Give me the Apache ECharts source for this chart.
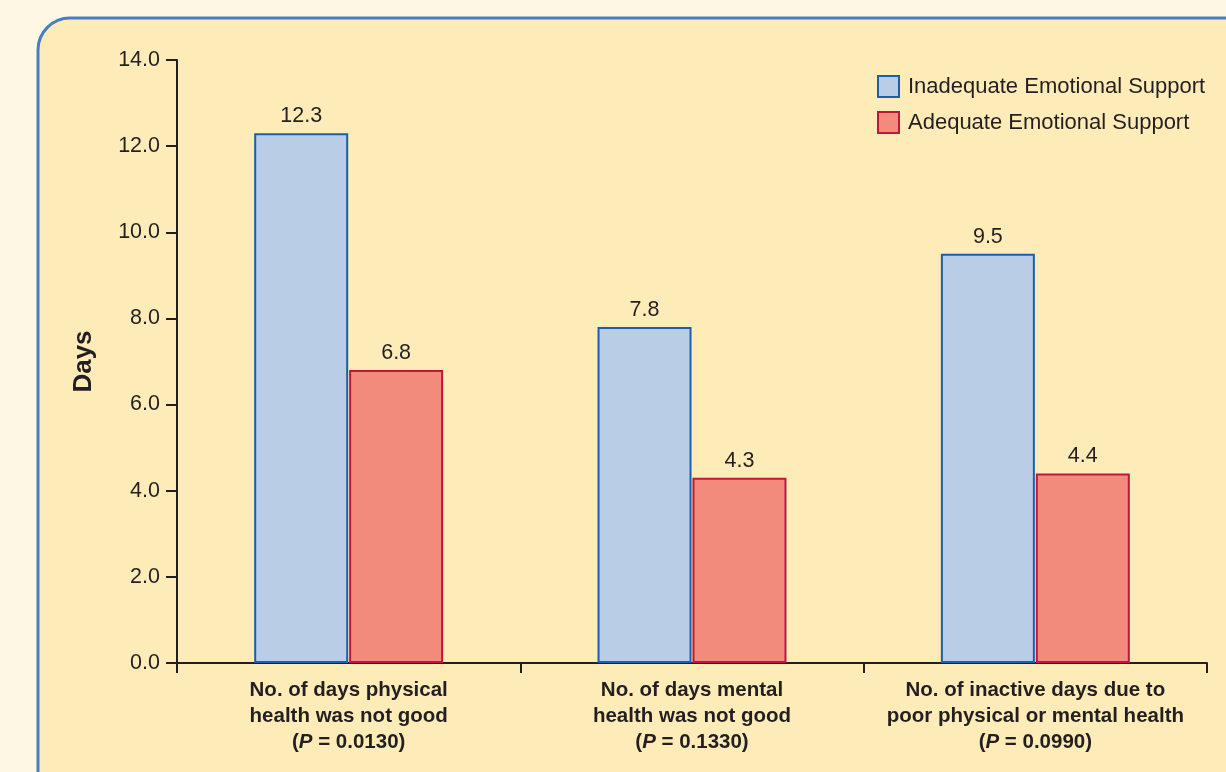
<!DOCTYPE html>
<html>
<head>
<meta charset="utf-8">
<script src="https://cdn.jsdelivr.net/npm/echarts@6/dist/echarts.min.js"></script>
<style>
html,body{margin:0;padding:0;background:#fdf7e4;}
#c{width:1226px;height:772px;}
</style>
</head>
<body>
<div id="c"></div>
<script>
const categories = [
  "No. of days physical\nhealth was not good",
  "No. of days mental\nhealth was not good",
  "No. of inactive days due to\npoor physical or mental health"
];
const pValues = ["0.0130", "0.1330", "0.0990"];
const inadequate = [12.3, 7.8, 9.5];
const adequate = [6.8, 4.3, 4.4];
const seriesNames = ["Inadequate Emotional Support", "Adequate Emotional Support"];
const yTicks = [0, 2, 4, 6, 8, 10, 12, 14];

const chart = echarts.init(document.getElementById('c'), null, {renderer: 'canvas'});
const txt = '#231f20';
const font = '"Liberation Sans", Arial, sans-serif';

chart.setOption({
  backgroundColor: '#fdf7e4',
  animation: false,
  graphic: [{
    type: 'rect', z: -10, silent: true,
    shape: {x: 38, y: 18, width: 1260, height: 820, r: 32},
    style: {fill: '#feecb8', stroke: '#4a7cc4', lineWidth: 3}
  }],
  legend: {
    orient: 'vertical', left: 872, top: 70,
    icon: 'rect',
    itemWidth: 21, itemHeight: 21, itemGap: 13,
    textStyle: {fontFamily: font, fontSize: 22, color: txt, padding: [0, 0, 0, 4]},
    data: seriesNames
  },
  grid: {left: 177, top: 60, right: 19, bottom: 109, containLabel: false},
  xAxis: {
    type: 'category',
    data: categories.map((c, i) => c + '\n(' + pValues[i] + ')'),
    axisLine: {lineStyle: {color: txt, width: 2}},
    axisTick: {show: true, length: 10, lineStyle: {color: txt, width: 2}, alignWithLabel: false},
    axisLabel: {
      interval: 0, margin: 14,
      formatter: function (v, i) {
        const lines = categories[i].split('\n');
        return lines.map(l => '{b|' + l + '}').join('\n') + '\n{b|(}{i|P}{b| = ' + pValues[i] + ')}';
      },
      rich: {
        b: {fontFamily: font, fontWeight: 'bold', fontSize: 20.5, color: txt, lineHeight: 26},
        i: {fontFamily: font, fontWeight: 'bold', fontStyle: 'italic', fontSize: 20.5, color: txt, lineHeight: 26}
      }
    }
  },
  yAxis: {
    type: 'value', min: 0, max: 14, interval: 2,
    name: 'Days', nameLocation: 'middle', nameGap: 80, nameRotate: 90,
    nameTextStyle: {fontFamily: font, fontWeight: 'bold', fontSize: 26, color: txt},
    axisLine: {show: true, lineStyle: {color: txt, width: 2}},
    axisTick: {show: true, length: 11, lineStyle: {color: txt, width: 2}},
    splitLine: {show: false},
    axisLabel: {
      fontFamily: font, fontSize: 21.5, color: txt, margin: 17,
      formatter: v => yTicks.includes(v) ? v.toFixed(1) : ''
    }
  },
  series: [
    {
      name: seriesNames[0], type: 'bar', data: inadequate,
      barWidth: 94, barGap: '1%',
      itemStyle: {color: '#b9cde6', borderColor: '#1a5fae', borderWidth: 2},
      label: {show: true, position: 'top', distance: 6, fontFamily: font, fontSize: 21.5, color: txt,
        formatter: p => p.value.toFixed(1)}
    },
    {
      name: seriesNames[1], type: 'bar', data: adequate,
      barWidth: 94,
      itemStyle: {color: '#f28b7c', borderColor: '#c0163c', borderWidth: 2},
      label: {show: true, position: 'top', distance: 6, fontFamily: font, fontSize: 21.5, color: txt,
        formatter: p => p.value.toFixed(1)}
    }
  ]
});
</script>
</body>
</html>
